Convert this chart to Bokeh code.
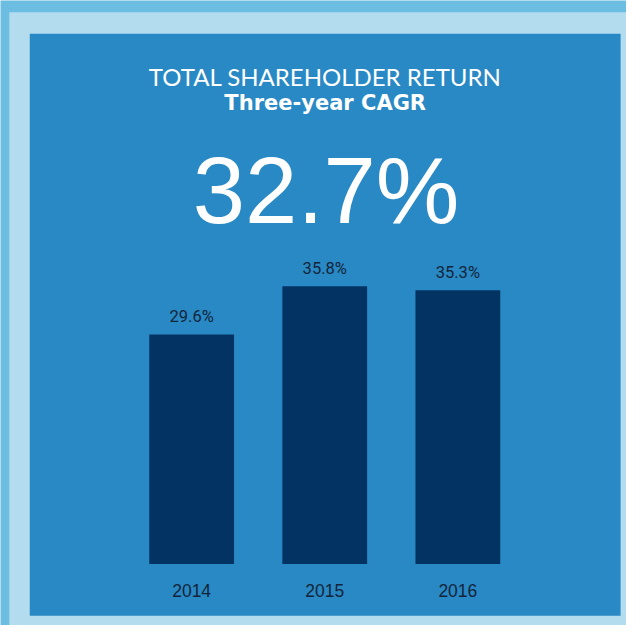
from bokeh.plotting import figure
from bokeh.models import Range1d, Label, ColumnDataSource
from bokeh.core.properties import value
from bokeh.embed import file_html
from bokeh.resources import INLINE

years = ["2014", "2015", "2016"]
tsr = [29.6, 35.8, 35.3]
tsr_labels = ["29.6%", "35.8%", "35.3%"]
title_text = "TOTAL SHAREHOLDER RETURN"
subtitle_text = "Three-year CAGR"
headline_text = "32.7%"

OUTER = "#6BBDE2"
BAND = "#B3DCEF"
INNER = "#2889C5"
BAR = "#023363"
DARK = "#14253A"

W, H = 626, 625

src = ColumnDataSource(dict(pos=list(range(len(years))), year=years, tsr=tsr, lab=tsr_labels,
                            zero=[0] * len(years)))

p = figure(width=W, height=H, output_backend="svg", toolbar_location=None,
           x_range=Range1d(-1.436, 3.267), y_range=Range1d(-7.911, 72.62),
           min_border_left=0, min_border_top=0, min_border_right=0, min_border_bottom=0)
p.axis.visible = False
p.grid.visible = False
p.outline_line_color = None
p.background_fill_color = OUTER
p.border_fill_color = OUTER

# pixel-space ranges for the decorative frame and headings
p.extra_x_ranges = {"px": Range1d(0, W)}
p.extra_y_ranges = {"py": Range1d(H, 0)}

p.quad(left=[8.8], right=[W], top=[11.7], bottom=[H], fill_color=BAND, line_color=None,
       x_range_name="px", y_range_name="py")
p.quad(left=[29.25], right=[620.1], top=[33.15], bottom=[615.2], fill_color=INNER, line_color=None,
       x_range_name="px", y_range_name="py")

p.vbar(x="pos", top="tsr", width=0.637, source=src, fill_color=BAR, line_color=None)

p.text(x="pos", y="tsr", text="lab", source=src, text_align="center", text_baseline="middle",
       y_offset=-17.5, text_font=value("Roboto"), text_font_size="16.5px", text_color=DARK)
p.text(x="pos", y="zero", text="year", source=src, text_align="center", text_baseline="middle",
       y_offset=26.3, text_font=value("Liberation Sans"), text_font_size="17.5px", text_color=DARK)

p.add_layout(Label(x=324.7, y=76, x_range_name="px", y_range_name="py", text=title_text,
                   text_align="center", text_baseline="middle",
                   text_font="Lato", text_font_size="24px", text_color="white"))
p.add_layout(Label(x=324.7, y=102.4, x_range_name="px", y_range_name="py", text=subtitle_text,
                   text_align="center", text_baseline="middle",
                   text_font="DejaVu Sans", text_font_style="bold", text_font_size="21px",
                   text_color="white"))
p.add_layout(Label(x=325.6, y=190.1, x_range_name="px", y_range_name="py", text=headline_text,
                   text_align="center", text_baseline="middle",
                   text_font="Liberation Sans", text_font_size="94px", text_color="white"))

html = file_html(p, INLINE)
open("out.html", "w").write(html)
